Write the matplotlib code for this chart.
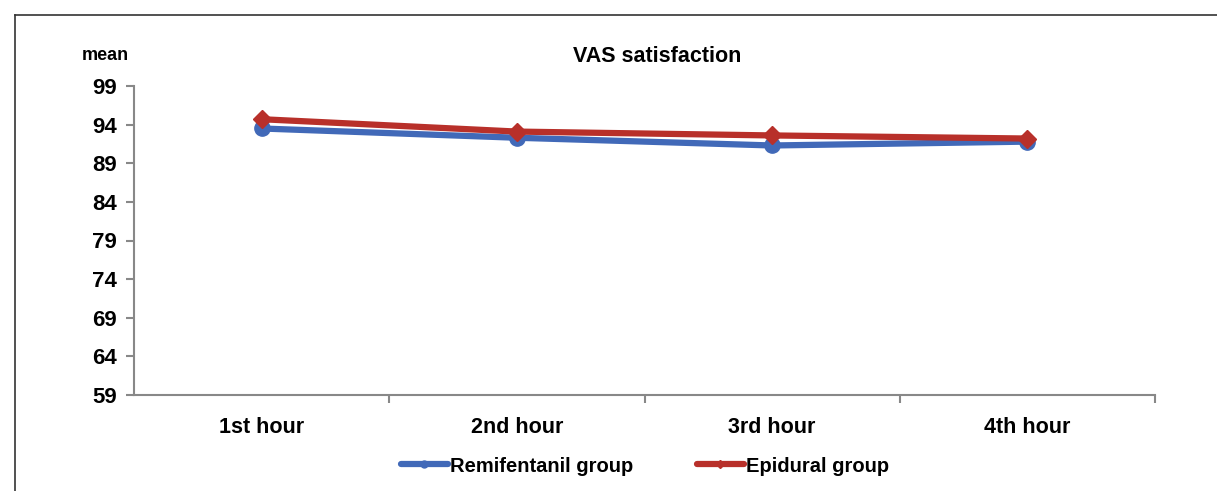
import matplotlib
matplotlib.use('Agg')
import matplotlib.pyplot as plt
from matplotlib.lines import Line2D

plt.rcParams['font.family'] = ['Liberation Sans', 'DejaVu Sans']
plt.rcParams['font.weight'] = 'bold'

hours = ['1st hour', '2nd hour', '3rd hour', '4th hour']
remifentanil = [93.5, 92.3, 91.3, 91.8]
epidural = [94.7, 93.1, 92.6, 92.2]
y_ticks = [59, 64, 69, 74, 79, 84, 89, 94, 99]

fig = plt.figure(figsize=(12.17, 4.91), dpi=100)
ax = fig.add_axes([134 / 1217, 1 - 395 / 491, (1155 - 134) / 1217, (395 - 86) / 491])

x = list(range(len(hours)))
ax.plot(x, remifentanil, color='#4169b8', lw=4.5, marker='o', ms=11, label='Remifentanil group')
ax.plot(x, epidural, color='#b8302a', lw=4.5, marker='D', ms=9, label='Epidural group')

ax.set_xlim(-0.5, 3.5)
ax.set_ylim(59, 99)
ax.set_yticks(y_ticks)
ax.set_yticklabels([str(v) for v in y_ticks], fontsize=16, fontweight='bold')
ax.set_xticks(x)
ax.set_xticklabels(hours, fontsize=15.5, fontweight='bold')
ax.tick_params(axis='x', length=0, pad=16)
ax.set_xticks([0.5, 1.5, 2.5, 3.5], minor=True)
ax.tick_params(axis='x', which='minor', length=6, color='#888888', width=1.5)
ax.tick_params(axis='y', length=6, color='#888888', width=1.5, pad=6)
for s in ['top', 'right']:
    ax.spines[s].set_visible(False)
for s in ['left', 'bottom']:
    ax.spines[s].set_color('#888888')
    ax.spines[s].set_linewidth(1.5)

fig.text(657 / 1217, 1 - 57 / 491, 'VAS satisfaction', ha='center', va='center', fontsize=15.5, fontweight='bold')
fig.text(105 / 1217, 1 - 55 / 491, 'mean', ha='center', va='center', fontsize=13, fontweight='bold')

handles = [Line2D([], [], color='#4169b8', lw=4.5, marker='o', ms=5, solid_capstyle='round'),
           Line2D([], [], color='#b8302a', lw=4.5, marker='D', ms=4, solid_capstyle='round')]
fig.legend(handles, ['Remifentanil group', 'Epidural group'], loc='center',
           bbox_to_anchor=(645 / 1217, 1 - 466 / 491), ncol=2, frameon=False,
           fontsize=14.5, handlelength=2.3, handletextpad=0.1, columnspacing=3.2)

fig.add_artist(Line2D([15 / 1217, 1], [1 - 15 / 491, 1 - 15 / 491], color='#333333', lw=1.2))
fig.add_artist(Line2D([15 / 1217, 15 / 1217], [0, 1 - 15 / 491], color='#333333', lw=1.2))

fig.savefig('out.png', dpi=100)
